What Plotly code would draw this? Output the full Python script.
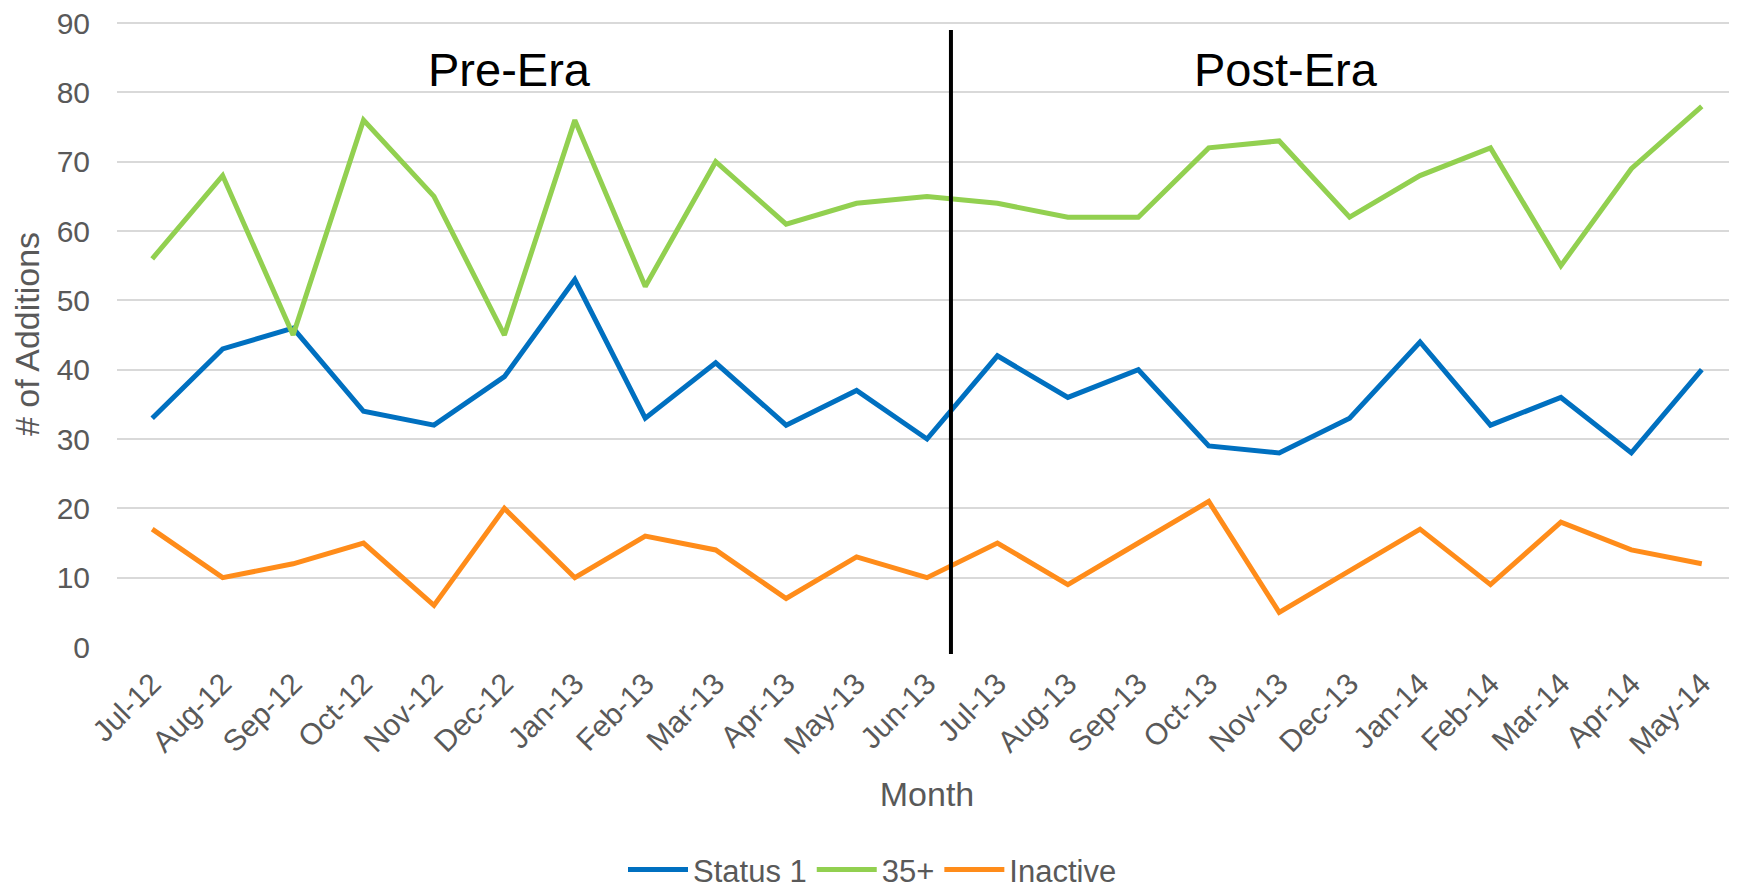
import plotly.graph_objects as go

months = ["Jul-12", "Aug-12", "Sep-12", "Oct-12", "Nov-12", "Dec-12", "Jan-13", "Feb-13",
          "Mar-13", "Apr-13", "May-13", "Jun-13", "Jul-13", "Aug-13", "Sep-13", "Oct-13",
          "Nov-13", "Dec-13", "Jan-14", "Feb-14", "Mar-14", "Apr-14", "May-14"]
status1 = [33, 43, 46, 34, 32, 39, 53, 33, 41, 32, 37, 30, 42, 36, 40, 29, 28, 33, 44, 32, 36, 28, 40]
plus35 = [56, 68, 45, 76, 65, 45, 76, 52, 70, 61, 64, 65, 64, 62, 62, 72, 73, 62, 68, 72, 55, 69, 78]
inactive = [17, 10, 12, 15, 6, 20, 10, 16, 14, 7, 13, 10, 15, 9, 15, 21, 5, 11, 17, 9, 18, 14, 12]
y_ticks = [0, 10, 20, 30, 40, 50, 60, 70, 80, 90]
divider_pos = 11.34
era_labels = ["Pre-Era", "Post-Era"]
era_pos = [5.07, 16.1]

FONT = "Liberation Sans, Arial, sans-serif"
GREY = "#595959"

fig = go.Figure()
for name, vals, col in [("Status 1", status1, "#0070C0"),
                        ("35+", plus35, "#92D050"),
                        ("Inactive", inactive, "#FF8C1A")]:
    fig.add_trace(go.Scatter(x=months, y=vals, mode="lines", name=name,
                             line=dict(color=col, width=5)))

fig.add_shape(type="line", xref="x", yref="paper", x0=divider_pos, x1=divider_pos,
              y0=-0.0112, y1=0.9856, line=dict(color="black", width=4))

for txt, pos in zip(era_labels, era_pos):
    fig.add_annotation(x=pos, y=83.3, xref="x", yref="y", text=txt, showarrow=False,
                       font=dict(family=FONT, size=47, color="black"))

# page body has an 8px default margin, so the figure is sized/offset to compensate
fig.update_layout(
    width=1729, height=883,
    margin=dict(l=109, r=0, t=13, b=244),
    paper_bgcolor="white", plot_bgcolor="white",
    font=dict(family=FONT, color=GREY, size=30),
    showlegend=True,
    legend=dict(orientation="h", xref="container", yref="container",
                x=0.5, xanchor="center", y=0.024, yanchor="middle",
                itemwidth=60,
                font=dict(size=31, color=GREY)),
    xaxis=dict(type="category", range=[-0.5, 22.5], tickangle=-45,
               showgrid=False, showline=False, zeroline=False,
               tickfont=dict(size=30, color=GREY), ticklabelstandoff=12,
               title=dict(text="Month", font=dict(size=34, color=GREY), standoff=22),
               automargin=False),
    yaxis=dict(range=[0, 90.3], tickvals=y_ticks, showgrid=True, gridcolor="#D9D9D9",
               gridwidth=2, zeroline=False, showline=False, ticklabeloverflow="allow",
               tickfont=dict(size=30, color=GREY), ticklabelstandoff=26,
               title=dict(text="# of Additions", font=dict(size=34, color=GREY), standoff=6),
               automargin=False),
)

fig.write_html("out.html")
